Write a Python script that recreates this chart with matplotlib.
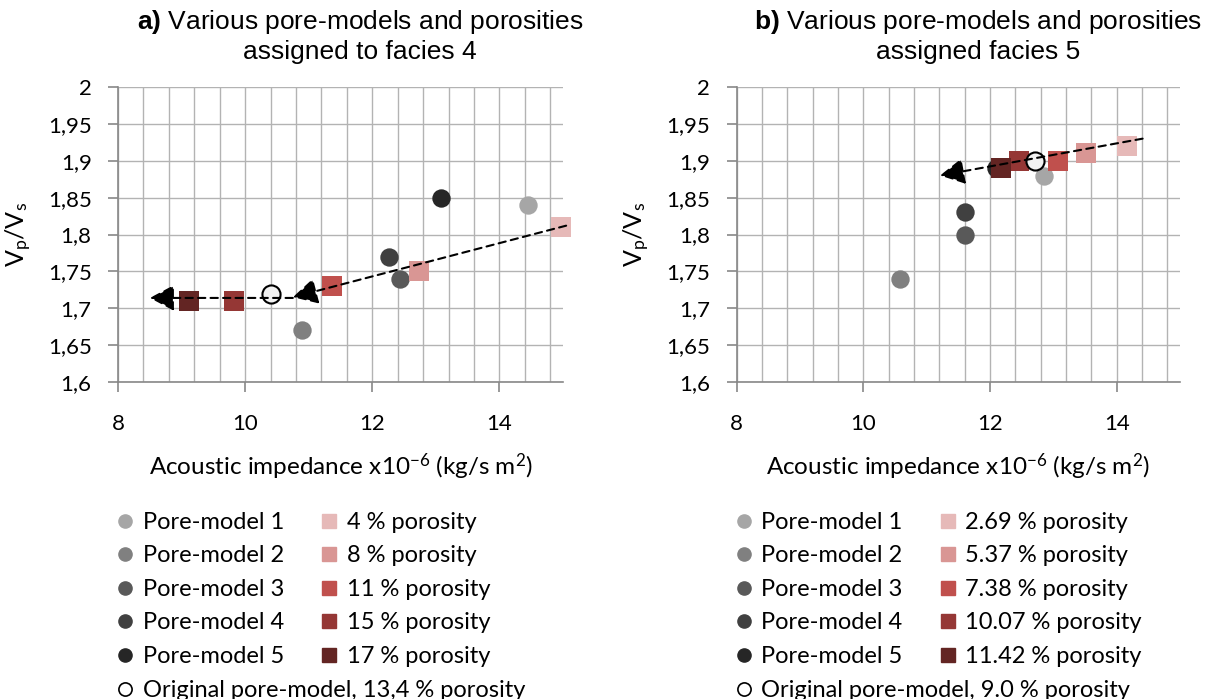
import numpy as np
import matplotlib.pyplot as plt
from matplotlib.ticker import MultipleLocator, FuncFormatter
from matplotlib.lines import Line2D

plt.rcParams['font.family'] = ['Lato', 'DejaVu Sans']
plt.rcParams['mathtext.fontset'] = 'custom'
plt.rcParams['mathtext.bf'] = 'Liberation Sans:bold'
plt.rcParams['mathtext.rm'] = 'Liberation Sans'

# a) facies 4
a_pm_ai = [14.45, 10.9, 12.43, 12.26, 13.08]
a_pm_vpvs = [1.84, 1.67, 1.74, 1.77, 1.85]
a_por_ai = [14.97, 12.74, 11.37, 9.82, 9.11]
a_por_vpvs = [1.81, 1.75, 1.73, 1.71, 1.71]
a_por_labels = ["4 % porosity", "8 % porosity", "11 % porosity", "15 % porosity", "17 % porosity"]
a_orig = (10.41, 1.72)
a_orig_label = "Original pore-model, 13,4 % porosity"
a_arrows = [((15.05, 1.812), (10.75, 1.715)), ((10.75, 1.714), (8.5, 1.714))]

# b) facies 5
b_pm_ai = [12.86, 10.58, 11.6, 11.6, 12.09]
b_pm_vpvs = [1.88, 1.74, 1.80, 1.83, 1.89]
b_por_ai = [14.16, 13.52, 13.08, 12.46, 12.17]
b_por_vpvs = [1.92, 1.91, 1.90, 1.90, 1.89]
b_por_labels = ["2.69 % porosity", "5.37 % porosity", "7.38 % porosity", "10.07 % porosity", "11.42 % porosity"]
b_orig = (12.71, 1.90)
b_orig_label = "Original pore-model, 9.0 % porosity"
b_arrows = [((14.41, 1.93), (11.21, 1.88))]

pm_labels = ["Pore-model 1", "Pore-model 2", "Pore-model 3", "Pore-model 4", "Pore-model 5"]
pm_colors = ["#a6a6a6", "#808080", "#595959", "#404040", "#262626"]
por_colors = ["#e6b9b8", "#d99694", "#c0504d", "#953735", "#632523"]

fig = plt.figure(figsize=(12.12, 6.99), dpi=100)
ax_a = fig.add_axes([0.0974, 0.4535, 0.3671, 0.422])
ax_b = fig.add_axes([0.6078, 0.4535, 0.3658, 0.422])


def draw(ax, pm_ai, pm_vpvs, por_ai, por_vpvs, por_labels, orig, orig_label, arrows):
    for i in range(5):
        ax.scatter(pm_ai[i], pm_vpvs[i], s=175, marker='o', color=pm_colors[i],
                   linewidths=0, zorder=3, clip_on=False)
    for i in range(5):
        ax.scatter(por_ai[i], por_vpvs[i], s=190, marker='s', color=por_colors[i],
                   linewidths=0, zorder=4, clip_on=False)
    ax.scatter(orig[0], orig[1], s=170, marker='o', facecolor='#f2f2f2',
               edgecolor='black', linewidths=1.5, zorder=5, clip_on=False)
    for start, tip in arrows:
        ax.annotate('', xy=tip, xytext=start, zorder=6, annotation_clip=False,
                    arrowprops=dict(arrowstyle='-|>,head_length=0.75,head_width=0.4',
                                    mutation_scale=20, color='black', lw=1.5,
                                    linestyle=(0, (3.5, 2.5)), shrinkA=0, shrinkB=0))

    ax.set_xlim(8, 15)
    ax.set_ylim(1.6, 2.0)
    ax.xaxis.set_major_locator(MultipleLocator(2))
    ax.xaxis.set_minor_locator(MultipleLocator(0.4))
    ax.yaxis.set_major_locator(MultipleLocator(0.05))
    ax.yaxis.set_major_formatter(FuncFormatter(lambda v, p: f"{v:g}".replace('.', ',')))
    ax.grid(True, which='both', color='#b3b3b3', lw=1.0)
    ax.set_axisbelow(True)
    for side in ['top', 'right']:
        ax.spines[side].set_visible(False)
    for side in ['left', 'bottom']:
        ax.spines[side].set_color('#888888')
        ax.spines[side].set_linewidth(1.2)
    ax.tick_params(which='major', length=7, color='#888888', width=1.2, labelsize=16)
    ax.tick_params(axis='x', which='major', pad=16)
    ax.tick_params(axis='y', which='major', pad=12)
    ax.tick_params(which='minor', length=0)

    ax.set_xlabel(r'Acoustic impedance x10$\mathregular{^{-6}}$ (kg/s m$\mathregular{^2}$)',
                  fontsize=17.5)
    ax.xaxis.set_label_coords(0.5, -0.235)
    ax.set_ylabel(r'V$\mathregular{_p}$/V$\mathregular{_s}$', fontsize=18)
    ax.yaxis.set_label_coords(-0.19, 0.5)

    handles = [Line2D([], [], ls='', marker='o', ms=9.5, color=c) for c in pm_colors]
    handles += [Line2D([], [], ls='', marker='s', ms=10.5, color=c) for c in por_colors]
    leg = ax.legend(handles, pm_labels + por_labels, ncol=2, frameon=False,
                    loc='upper left', bbox_to_anchor=(0.0, -0.44), fontsize=17,
                    handlelength=0.6, handletextpad=0.45, labelspacing=0.53,
                    columnspacing=1.6, borderaxespad=0, borderpad=0)
    ax.add_artist(leg)
    oh = Line2D([], [], ls='', marker='o', ms=9.5, markerfacecolor='white',
                markeredgecolor='black', markeredgewidth=1.2)
    ax.legend([oh], [orig_label], frameon=False, loc='upper left',
              bbox_to_anchor=(0.0, -1.01), fontsize=17, handlelength=0.6,
              handletextpad=0.45, borderaxespad=0, borderpad=0)


draw(ax_a, a_pm_ai, a_pm_vpvs, a_por_ai, a_por_vpvs, a_por_labels, a_orig, a_orig_label, a_arrows)
draw(ax_b, b_pm_ai, b_pm_vpvs, b_por_ai, b_por_vpvs, b_por_labels, b_orig, b_orig_label, b_arrows)

fig.text(0.297, 0.988, r'$\mathbf{a)}$ Various pore-models and porosities' + '\nassigned to facies 4',
         ha='center', va='top', fontsize=19, family='Liberation Sans', linespacing=1.2)
fig.text(0.807, 0.988, r'$\mathbf{b)}$ Various pore-models and porosities' + '\nassigned facies 5',
         ha='center', va='top', fontsize=19, family='Liberation Sans', linespacing=1.2)

fig.savefig('out.png', dpi=100)
